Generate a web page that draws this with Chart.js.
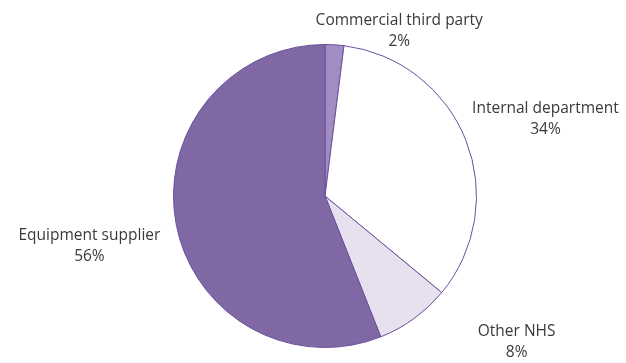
<!DOCTYPE html>
<html>
<head>
<meta charset="utf-8">
<script src="https://cdn.jsdelivr.net/npm/chart.js@4/dist/chart.umd.min.js"></script>
<style>
  html, body { margin: 0; padding: 0; background: #fff; }
  #wrap { width: 626px; height: 363px; position: relative; }
</style>
</head>
<body>
<div id="wrap"><canvas id="myChart" width="626" height="363"></canvas></div>
<script>
// dati della torta (in senso orario dall'alto)
categorie = ['Commercial third party', 'Internal department', 'Other NHS', 'Equipment supplier']
valori = [2, 34, 8, 56]
colori = ['#a18dc2', '#ffffff', '#e6e0ef', '#8068a4']

// posizione delle etichette rispetto al centro, in multipli del raggio
etichettePos = [[0.49, -1.16], [1.455, -0.58], [1.265, 0.895], [-1.555, 0.26]]

const etichette = {
    id: 'etichette',
    afterDraw(chart) {
        const ctx = chart.ctx
        const meta = chart.getDatasetMeta(0)
        const arc = meta.data[0]
        const cx = arc.x, cy = arc.y, r = arc.outerRadius
        ctx.save()
        ctx.font = '15.5px "Open Sans", sans-serif'
        ctx.fillStyle = '#3a3a3a'
        ctx.textAlign = 'center'
        ctx.textBaseline = 'middle'
        for (let i = 0; i < categorie.length; i++) {
            const x = cx + etichettePos[i][0] * r
            const y = cy + etichettePos[i][1] * r
            ctx.fillText(categorie[i], x, y)
            ctx.fillText(valori[i] + '%', x, y + 21)
        }
        ctx.restore()
    }
}

const ctx = document.getElementById('myChart').getContext('2d')
const myChart = new Chart(ctx, {
    type: 'pie',
    data: {
        labels: categorie,
        datasets: [{
            data: valori,
            backgroundColor: colori,
            borderColor: '#6a4f9e',
            borderWidth: 1
        }]
    },
    options: {
        responsive: false,
        animation: false,
        layout: { padding: { top: 44, bottom: 15, left: 24, right: 0 } },
        plugins: {
            legend: { display: false },
            tooltip: { enabled: false }
        }
    },
    plugins: [etichette]
})
</script>
</body>
</html>
